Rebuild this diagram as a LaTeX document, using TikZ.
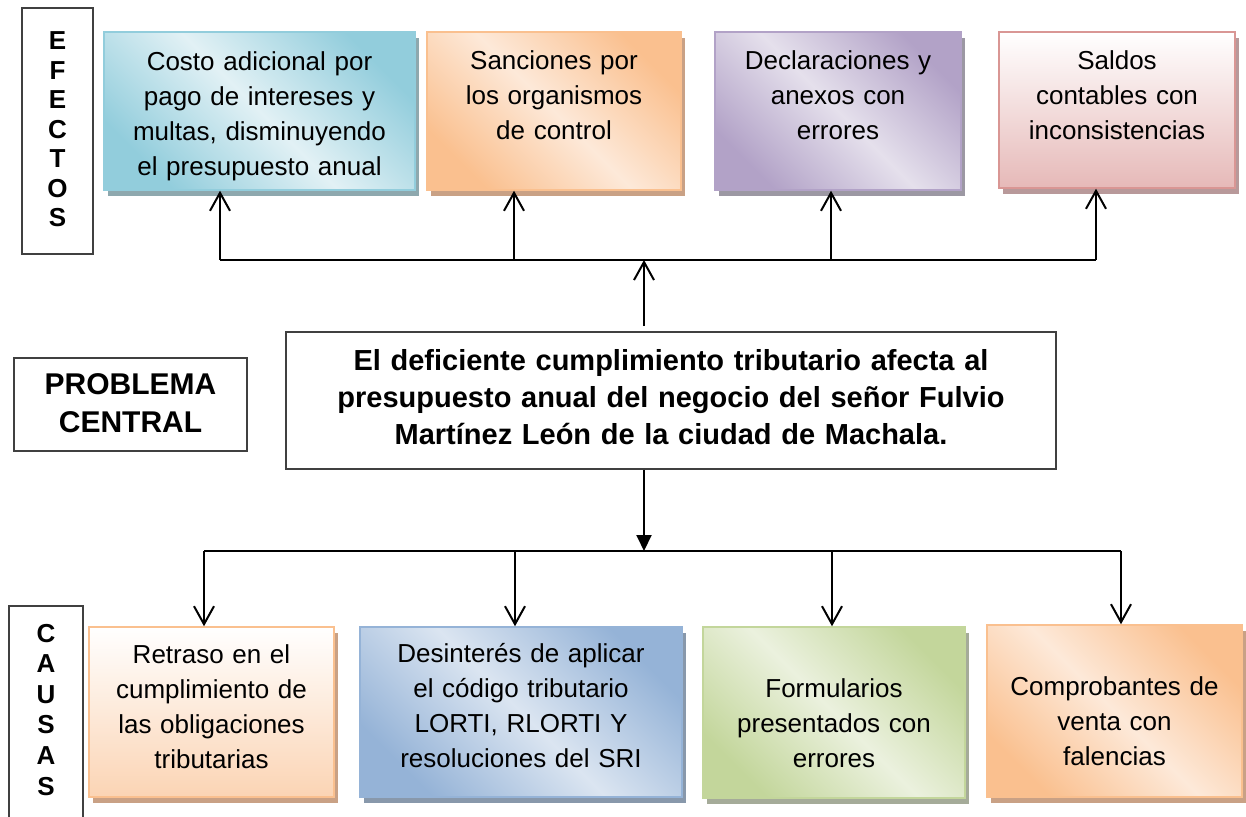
\documentclass[tikz,border=0pt]{standalone}
\usepackage{fontspec}
\setmainfont{Liberation Sans}
\usetikzlibrary{arrows.meta,shadows}

\definecolor{cTeal}{HTML}{92CDDC}
\definecolor{cTealL}{HTML}{E2F1F5}
\definecolor{cTealS}{HTML}{8EA8AE}
\definecolor{cNar}{HTML}{FAC08F}
\definecolor{cNarL}{HTML}{FDE9D9}
\definecolor{cNarS}{HTML}{C9A185}
\definecolor{cMel}{HTML}{FBD4B4}
\definecolor{cLil}{HTML}{B2A2C7}
\definecolor{cLilL}{HTML}{E5E0EC}
\definecolor{cLilS}{HTML}{9C98A3}
\definecolor{cRos}{HTML}{D99694}
\definecolor{cRosB}{HTML}{E6B9B8}
\definecolor{cRosS}{HTML}{B8999A}
\definecolor{cAzu}{HTML}{95B3D7}
\definecolor{cAzuL}{HTML}{DBE5F1}
\definecolor{cAzuS}{HTML}{8898AB}
\definecolor{cVer}{HTML}{C3D69B}
\definecolor{cVerL}{HTML}{EBF1DE}
\definecolor{cVerS}{HTML}{A5AB99}

\tikzset{
  caja/.style={rectangle, inner sep=0pt, line width=0.75pt, align=center, anchor=base,
    font=\fontsize{13}{17.5}\selectfont},
  sombra/.style={drop shadow={shadow xshift=2pt, shadow yshift=-3pt, fill=#1, opacity=1}},
  diagbox/.style n args={3}{caja, draw=#1, top color=#1, bottom color=#1, middle color=#2,
    shading angle=-45, sombra=#3},
  vertbox/.style n args={3}{caja, draw=#1, top color=white, bottom color=#2, sombra=#3},
  marco/.style={rectangle, inner sep=0pt, draw=black!75, line width=0.8pt, fill=white,
    align=center, anchor=base},
  linea/.style={line width=1pt},
  flecha/.style={linea, -{Straight Barb[length=9pt,width=10pt]}},
}

\begin{document}
\begin{tikzpicture}[x=0.5pt,y=-0.5pt]
\useasboundingbox (0,0) rectangle (1246,817);
\clip (0,0) rectangle (1246,817);

\node[marco, font=\fontsize{13}{14.75}\selectfont\bfseries, text width=35.5pt,
  text height=21pt, text depth=102pt] (efe) at (57.5,50) {E\\F\\E\\C\\T\\O\\S};

\node[diagbox={cTeal}{cTealL}{cTealS}, text width=155.5pt, text height=19.5pt,
  text depth=59.5pt] (ef1) at (259.5,71)
  {Costo adicional por\\pago de intereses y\\multas, disminuyendo\\el presupuesto anual};
\node[diagbox={cNar}{cNarL}{cNarS}, text width=127pt, text height=19pt,
  text depth=60pt] (ef2) at (554,70) {Sanciones por\\los organismos\\de control};
\node[diagbox={cLil}{cLilL}{cLilS}, text width=123pt, text height=19pt,
  text depth=60pt] (ef3) at (838,70) {Declaraciones y\\anexos con\\errores};
\node[vertbox={cRos}{cRosB}{cRosS}, text width=118pt, text height=19pt,
  text depth=59pt] (ef4) at (1117,70) {Saldos\\contables con\\inconsistencias};

\node[marco, font=\fontsize{15}{19}\selectfont\bfseries, text width=116.5pt,
  text height=18.5pt, text depth=28pt] (prob) at (130.5,395) {PROBLEMA\\CENTRAL};

\node[marco, font=\fontsize{14.5}{18.5}\selectfont\bfseries, text width=385pt,
  text height=19.5pt, text depth=49pt] (cen) at (671,371)
  {El deficiente cumplimiento tributario afecta al\\presupuesto anual del negocio del señor Fulvio\\Martínez León de la ciudad de Machala.};

\node[marco, font=\fontsize{13}{15.3}\selectfont\bfseries, text width=37pt,
  text height=18pt, text depth=99pt] (cau) at (46,642) {C\\A\\U\\S\\A\\S};

\node[vertbox={cNar}{cMel}{cNarS}, text width=122.5pt, text height=18pt,
  text depth=67pt] (ca1) at (211.5,663)
  {Retraso en el\\cumplimiento de\\las obligaciones\\tributarias};
\node[diagbox={cAzu}{cAzuL}{cAzuS}, text width=161pt, text height=17.5pt,
  text depth=67.5pt] (ca2) at (521,662)
  {Desinterés de aplicar\\el código tributario\\LORTI, RLORTI Y\\resoluciones del SRI};
\node[diagbox={cVer}{cVerL}{cVerS}, text width=131pt, text height=35pt,
  text depth=50.5pt] (ca3) at (834,697) {Formularios\\presentados con\\errores};
\node[diagbox={cNar}{cNarL}{cNarS}, text width=127.5pt, text height=35pt,
  text depth=51pt] (ca4) at (1114.5,695) {Comprobantes de\\venta con\\falencias};

\foreach \i/\x in {1/220,2/514,3/831,4/1096} {
  \coordinate (t\i) at (\x,260);
  \draw[flecha] (t\i) -- (t\i |- ef\i.south);
}
\draw[linea] (t1) -- (t4);
\coordinate (tc) at (644,260);
\draw[flecha, shorten <=2.5pt] (tc |- cen.north) -- (tc);

\coordinate (bc) at (644,551);
\draw[linea, -{Triangle[length=8pt,width=7.5pt]}] (bc |- cen.south) -- (bc);
\foreach \i/\x in {1/204,2/515,3/832,4/1121} {
  \coordinate (b\i) at (\x,551);
  \draw[flecha] (b\i) -- (b\i |- ca\i.north);
}
\draw[linea] (b1) -- (b4);

\end{tikzpicture}
\end{document}
